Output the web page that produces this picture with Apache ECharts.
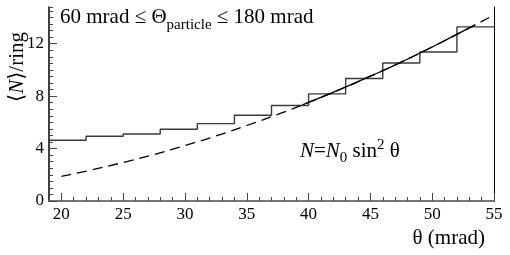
<!DOCTYPE html>
<html>
<head>
<meta charset="utf-8">
<script src="https://cdn.jsdelivr.net/npm/echarts@6/dist/echarts.min.js"></script>
<style>html,body{margin:0;padding:0;background:#fff}#c{width:510px;height:255px}</style>
</head>
<body>
<div id="c"></div>
<script>
// Histogram: bin edges (mrad) and mean number of photons per ring
var binEdges = [19, 22, 25, 28, 31, 34, 37, 40, 43, 46, 49, 52, 55];
var nPerRing = [4.63, 4.94, 5.11, 5.47, 5.90, 6.54, 7.28, 8.17, 9.34, 10.53, 11.37, 13.28];
// Dashed curve N = N0 sin^2(theta)
var fitTheta = [20, 22.5, 25, 27.5, 30, 32.5, 35, 37.5, 40, 42.5, 45, 47.5, 50, 52.5, 55];
var fitN = [1.88, 2.38, 2.94, 3.55, 4.23, 4.96, 5.76, 6.61, 7.52, 8.49, 9.52, 10.6, 11.75, 12.95, 14.2];
// Solid part of the curve (fit range)
var solidTheta = [39.5, 42.5, 45, 47.5, 50, 53.5];
var solidN = [7.33, 8.49, 9.52, 10.6, 11.75, 13.45];
// Tick labels
var xTicks = [20, 25, 30, 35, 40, 45, 50, 55];
var yTicks = [0, 4, 8, 12];

var histData = binEdges.map(function (e, i) {
  return [e, nPerRing[Math.min(i, nPerRing.length - 1)]];
});
var fitData = fitTheta.map(function (t, i) { return [t, fitN[i]]; });
var solidData = solidTheta.map(function (t, i) { return [t, solidN[i]]; });

var FONT = '"Liberation Serif", "DejaVu Serif", serif';
var xMin = 19, xMax = 55, yMin = 0, yMax = 14.8;

var chart = echarts.init(document.getElementById('c'), null, {renderer: 'canvas'});
chart.setOption({
  animation: false,
  backgroundColor: '#fff',
  grid: {left: 49, right: 16, top: 7, bottom: 54, containLabel: false},
  xAxis: [
    { // minor ticks
      type: 'value', position: 'bottom', min: xMin, max: xMax, interval: 1,
      axisLine: {show: true, lineStyle: {color: '#000', width: 1.5}},
      axisTick: {show: true, inside: true, length: 4, lineStyle: {color: '#444', width: 1}},
      axisLabel: {show: false}, splitLine: {show: false}
    },
    { // major ticks + labels
      type: 'value', position: 'bottom', min: xMin, max: xMax,
      axisLine: {show: false},
      axisTick: {show: true, inside: true, length: 8, customValues: xTicks, lineStyle: {color: '#444', width: 1}},
      axisLabel: {show: true, customValues: xTicks, margin: 5, fontFamily: FONT, fontSize: 17, color: '#000'},
      splitLine: {show: false}
    },
    { // top frame
      type: 'value', position: 'top', min: xMin, max: xMax,
      axisLine: {show: true, lineStyle: {color: '#777', width: 2}},
      axisTick: {show: false}, axisLabel: {show: false}, splitLine: {show: false}
    }
  ],
  yAxis: [
    { // major ticks + labels
      type: 'value', position: 'left', min: yMin, max: yMax,
      axisLine: {show: true, lineStyle: {color: '#000', width: 1.5}},
      axisTick: {show: true, inside: true, length: 8, customValues: yTicks, lineStyle: {color: '#444', width: 1}},
      axisLabel: {show: true, customValues: yTicks, margin: 5, fontFamily: FONT, fontSize: 17, color: '#000'},
      splitLine: {show: false}
    },
    { // minor ticks
      type: 'value', position: 'left', min: yMin, max: yMax, interval: 0.5,
      axisLine: {show: false},
      axisTick: {show: true, inside: true, length: 4, lineStyle: {color: '#444', width: 1}},
      axisLabel: {show: false}, splitLine: {show: false}
    },
    { // right frame
      type: 'value', position: 'right', min: yMin, max: yMax,
      axisLine: {show: true, lineStyle: {color: '#000', width: 1}},
      axisTick: {show: false}, axisLabel: {show: false}, splitLine: {show: false}
    }
  ],
  series: [
    {
      type: 'line', xAxisIndex: 0, yAxisIndex: 0, step: 'end', data: histData,
      symbol: 'none', lineStyle: {color: '#3a3a3a', width: 1.4}, z: 3
    },
    {
      type: 'line', xAxisIndex: 0, yAxisIndex: 0, smooth: true, data: fitData,
      symbol: 'none', lineStyle: {color: '#000', width: 1.3, type: [10, 6]}, z: 4
    },
    {
      type: 'line', xAxisIndex: 0, yAxisIndex: 0, smooth: true, data: solidData,
      symbol: 'none', lineStyle: {color: '#000', width: 1.3}, z: 4
    }
  ],
  graphic: [
    {
      type: 'text', left: 60, top: 7, z: 10,
      style: {
        text: '{t|60 mrad ≤ Θ}{s|particle}{t| ≤ 180 mrad}',
        rich: {
          t: {fontFamily: FONT, fontSize: 21, color: '#000', verticalAlign: 'top', lineHeight: 22},
          s: {fontFamily: FONT, fontSize: 15, color: '#000', verticalAlign: 'top', lineHeight: 15, padding: [11, 0, 0, 0]}
        }
      }
    },
    {
      type: 'text', left: 300, top: 137, z: 10,
      style: {
        text: '{i|N}{t|=}{i|N}{s|0}{t| sin}{u|2}{t| θ}',
        rich: {
          t: {fontFamily: FONT, fontSize: 21, color: '#000', verticalAlign: 'top', lineHeight: 22, padding: [4, 0, 0, 0]},
          i: {fontFamily: FONT, fontSize: 21, fontStyle: 'italic', color: '#000', verticalAlign: 'top', lineHeight: 22, padding: [4, 0, 0, 0]},
          s: {fontFamily: FONT, fontSize: 15, color: '#000', verticalAlign: 'top', lineHeight: 15, padding: [14, 0, 0, 0]},
          u: {fontFamily: FONT, fontSize: 15, color: '#000', verticalAlign: 'top', lineHeight: 15, padding: [1, 0, 0, 0]}
        }
      }
    },
    {
      type: 'text', x: 17, y: 67, rotation: Math.PI / 2, z: 10,
      style: {
        text: '{t|⟨}{i|N}{t|⟩/ring}',
        align: 'center', verticalAlign: 'middle',
        rich: {
          t: {fontFamily: FONT, fontSize: 21, color: '#000'},
          i: {fontFamily: FONT, fontSize: 21, fontStyle: 'italic', color: '#000'}
        }
      }
    },
    {
      type: 'text', right: 25, top: 228, z: 10,
      style: {text: 'θ (mrad)', fontFamily: FONT, fontSize: 21, fill: '#000'}
    }
  ]
});
</script>
</body>
</html>
